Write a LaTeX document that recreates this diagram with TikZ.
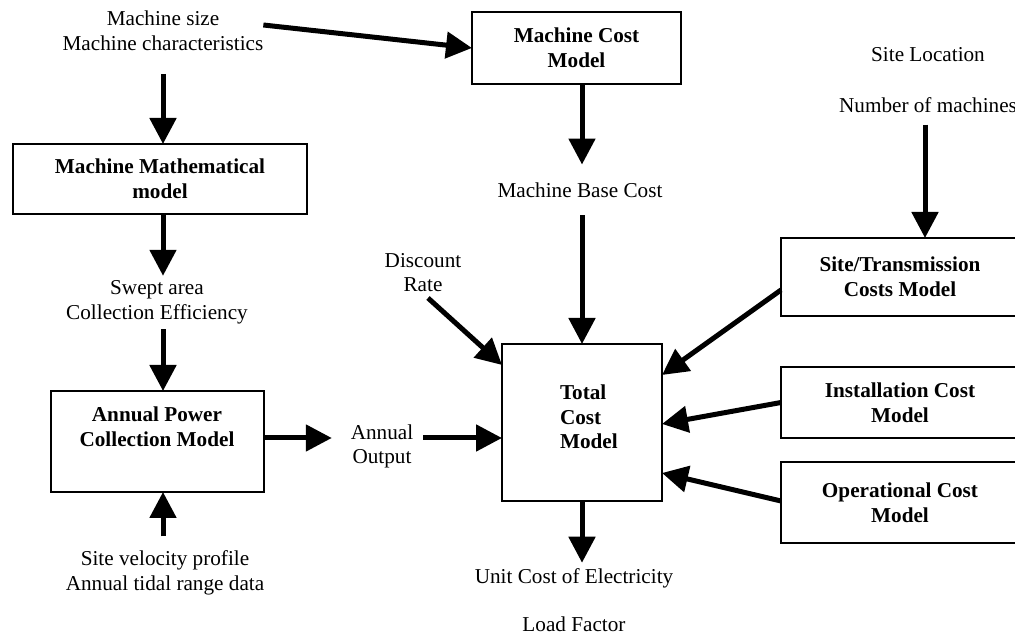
\documentclass[tikz,border=0pt]{standalone}
\usepackage{fontspec}
\setmainfont{Liberation Serif}
\usepackage{tikz}
\usetikzlibrary{arrows.meta}

\begin{document}
\begin{tikzpicture}[x=1pt,y=1pt,
  lbl/.style={text=drawColor,align=center,inner sep=0pt,outer sep=0pt,font=\fontsize{21.2}{24.8}\selectfont},
  box/.style={draw=drawColor,line width=1.5pt,fill=fillColor,inner sep=0pt,outer sep=0pt,align=center,font=\fontsize{21.2}{24.8}\selectfont\bfseries},
  boxtext/.style={text=drawColor,inner sep=0pt,outer sep=0pt,font=\fontsize{21.2}{24.8}\selectfont\bfseries},
  arr/.style={draw=drawColor,line width=5pt,-{Triangle[length=26pt,width=26pt]}}]
\definecolor{fillColor}{RGB}{255,255,255}
\definecolor{drawColor}{RGB}{0,0,0}
\path[use as bounding box,fill=fillColor] (0,0) rectangle (1015,636);

\node[lbl] (msize) at (163,605) {Machine size\\Machine characteristics};
\node[box,minimum width=209,minimum height=72] (mcost) at (576.5,588) {Machine Cost\\Model};
\node[box,minimum width=294,minimum height=70] (mmm) at (160,457) {Machine Mathematical\\model};
\node[lbl] (swept) at (157,333.5) {Swept area\\Collection Efficiency};
\node[box,minimum width=213,minimum height=101] (apc) at (157.5,194.5) {};
\node[boxtext,align=center,anchor=north] (apctext) at (157,229.5) {Annual Power\\Collection Model};
\node[lbl] (disc) at (423,363.5) {Discount\\Rate};
\node[lbl] (mbase) at (580,446) {Machine Base Cost};
\node[box,minimum width=160,minimum height=157] (total) at (582,213.5) {};
\node[boxtext,align=left,anchor=north west] (totaltext) at (560,251.5) {Total\\Cost\\Model};
\node[lbl] (aout) at (382,189.5) {Annual\\Output};
\node[lbl] (sitevel) at (165,63.5) {Site velocity profile\\Annual tidal range data};
\node[lbl] (sloc) at (928,581) {Site Location};
\node[lbl] (nmach) at (928,531) {Number of machines};
\node[box,minimum width=238,minimum height=78] (site) at (900,359) {Site/Transmission\\Costs Model};
\node[box,minimum width=238,minimum height=71] (inst) at (900,233.5) {Installation Cost\\Model};
\node[box,minimum width=238,minimum height=81] (op) at (900,133.5) {Operational Cost\\Model};
\node[lbl] (ucost) at (574,58) {Unit Cost of Electricity};
\node[lbl] (lfac) at (574,12) {Load Factor};

\path[arr] ([yshift=6pt]msize.east) -- (mcost.west);
\path[arr] ([yshift=-23pt]msize.south) -- ([xshift=3pt]mmm.north);
\path[arr] ([xshift=3pt]mmm.south) -- ([xshift=6pt,yshift=5pt]swept.north);
\path[arr] ([xshift=6pt,yshift=-5pt]swept.south) -- ([xshift=5.5pt]apc.north);
\path[arr] ([yshift=3.5pt]apc.east) -- ([xshift=-19pt,yshift=8.5pt]aout.west);
\path[arr] ([xshift=10pt,yshift=8.5pt]aout.east) -- ([yshift=-15.5pt]total.west);
\path[arr] ([xshift=5pt,yshift=-6pt]disc.south) -- ([yshift=-21pt]total.north west);
\path[arr] ([xshift=5.5pt]mcost.south) -- ([xshift=2pt,yshift=18pt]mbase.north);
\path[arr] ([xshift=2pt,yshift=-18pt]mbase.south) -- (total.north);
\path[arr] (total.south) -- ([xshift=8pt,yshift=5.5pt]ucost.north);
\path[arr] ([xshift=-3pt,yshift=-12pt]nmach.south) -- ([xshift=25pt]site.north);
\path[arr] ([yshift=-13pt]site.west) -- ([yshift=47.5pt]total.east);
\path[arr] (inst.west) -- ([yshift=-1.5pt]total.east);
\path[arr] ([yshift=1.5pt]op.west) -- ([yshift=-50.5pt]total.east);
\path[arr] ([xshift=-2pt,yshift=14pt]sitevel.north) -- ([xshift=5.5pt]apc.south);
\end{tikzpicture}
\end{document}
